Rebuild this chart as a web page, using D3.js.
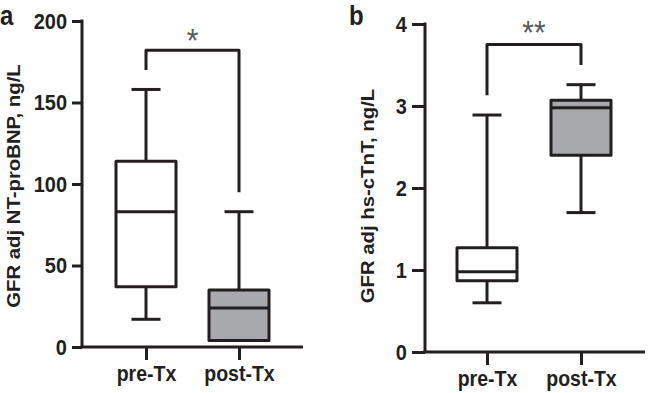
<!DOCTYPE html>
<html>
<head>
<meta charset="utf-8">
<script src="https://cdn.jsdelivr.net/npm/d3@7"></script>
<style>
  body { margin: 0; background: #fff; }
  svg text { font-family: "Liberation Sans", Arial, sans-serif; }
</style>
</head>
<body>
<svg></svg>
<script>
const w = 650
const h = 393
const ink = '#231f20'
const stretch = 1.13 // the original figure is a little taller than wide

const groups = ['pre-Tx', 'post-Tx']
const fills = ['#ffffff', '#a7a9ac']

// panel a : NT-proBNP  [min, q1, median, q3, max]
const bnpStats = [
  [17, 37, 83, 114, 158],
  [4, 4, 24, 35, 83]
]
const bnpTicks = [0, 50, 100, 150, 200]
// bracket: [left end, top, right end]
const bnpBracket = [170, 182, 95]

// panel b : hs-cTnT
const tntStats = [
  [0.6, 0.87, 0.98, 1.27, 2.89],
  [1.7, 2.4, 2.98, 3.07, 3.26]
]
const tntTicks = [0, 1, 2, 3, 4]
const tntBracket = [3.13, 3.75, 3.5]

const svg = d3.select('svg')
  .attr('width', w)
  .attr('height', h)

const panel = (opt) => {
  const {left, right, top, bottom, catX, domain, ticks, tickLen, stats, bracket,
    stars, starDy, title, titleX, titleY, letter, letterX} = opt

  const yScale = d3.scaleLinear().domain(domain).range([bottom, top])
  const xScale = d3.scalePoint().domain(groups).range(catX)

  const g = svg.append('g')

  // y axis
  const yAxis = g.append('g')
    .attr('transform', `translate(${left},0)`)
    .call(d3.axisLeft(yScale).tickValues(ticks).tickFormat(d3.format('d'))
      .tickSize(tickLen).tickPadding(5))
    .attr('font-family', null).attr('font-size', null)
  yAxis.select('.domain').attr('stroke', ink).attr('stroke-width', 3)
    .attr('d', `M0,${top - 1.5}V${bottom}`)
  yAxis.selectAll('.tick line').attr('stroke', ink).attr('stroke-width', 3)
  yAxis.selectAll('.tick text')
    .attr('fill', ink).attr('font-size', 20).attr('font-weight', 'bold')
    .attr('transform', `scale(1,${stretch})`)

  // x axis
  const xAxis = g.append('g')
    .attr('transform', `translate(0,${bottom})`)
    .call(d3.axisBottom(xScale).tickSize(13))
    .attr('font-family', null).attr('font-size', null)
  xAxis.select('.domain').attr('stroke', ink).attr('stroke-width', 3)
    .attr('d', `M${left - 1.5},0H${right}`)
  xAxis.selectAll('.tick line').attr('stroke', ink).attr('stroke-width', 3)
  xAxis.selectAll('.tick text')
    .attr('y', 0).attr('dy', null)
    .attr('transform', `translate(0,34) scale(1,${stretch})`)
    .attr('fill', ink).attr('font-size', 19.5).attr('font-weight', 'bold')

  // boxes
  const boxW = 60, capW = 29
  const box = g.selectAll('.box').data(stats).enter().append('g')
    .attr('fill', 'none').attr('stroke', ink).attr('stroke-width', 3)
  box.append('line')
    .attr('x1', (d, i) => xScale(groups[i])).attr('x2', (d, i) => xScale(groups[i]))
    .attr('y1', d => yScale(d[0])).attr('y2', d => yScale(d[4]))
  box.filter(d => d[0] < d[1]).append('line')
    .attr('x1', (d, i) => xScale(groups[i]) - capW / 2).attr('x2', (d, i) => xScale(groups[i]) + capW / 2)
    .attr('y1', d => yScale(d[0])).attr('y2', d => yScale(d[0]))
  box.append('line')
    .attr('x1', (d, i) => xScale(groups[i]) - capW / 2).attr('x2', (d, i) => xScale(groups[i]) + capW / 2)
    .attr('y1', d => yScale(d[4])).attr('y2', d => yScale(d[4]))
  box.append('rect')
    .attr('x', (d, i) => xScale(groups[i]) - boxW / 2)
    .attr('width', boxW)
    .attr('y', d => yScale(d[3]))
    .attr('height', d => yScale(d[1]) - yScale(d[3]))
    .attr('fill', (d, i) => fills[i])
    .attr('stroke-linejoin', 'round')
  box.append('line')
    .attr('x1', (d, i) => xScale(groups[i]) - boxW / 2).attr('x2', (d, i) => xScale(groups[i]) + boxW / 2)
    .attr('y1', d => yScale(d[2])).attr('y2', d => yScale(d[2]))

  // significance bracket
  const x0 = xScale(groups[0]), x1 = xScale(groups[1])
  g.append('path')
    .attr('d', `M${x0},${yScale(bracket[0])}V${yScale(bracket[1])}H${x1}V${yScale(bracket[2])}`)
    .attr('fill', 'none').attr('stroke', ink).attr('stroke-width', 3)
    .attr('stroke-linejoin', 'round')
  g.append('text')
    .attr('transform', `translate(${(x0 + x1) / 2},${yScale(bracket[1]) + starDy}) scale(1,${stretch})`)
    .attr('text-anchor', 'middle')
    .attr('font-size', 30).attr('fill', '#58595b')
    .text(stars)

  // axis title
  g.append('text')
    .attr('transform', `translate(${titleX},${titleY}) scale(1,${stretch}) rotate(-90)`)
    .attr('text-anchor', 'middle')
    .attr('font-size', 18).attr('font-weight', 'bold').attr('fill', ink)
    .text(title)

  // panel letter
  g.append('text')
    .attr('transform', `translate(${letterX},25) scale(1,${stretch})`)
    .attr('font-size', 24).attr('font-weight', 'bold').attr('fill', ink)
    .text(letter)
}

panel({
  left: 82, right: 303, top: 21, bottom: 347, catX: [146, 239],
  domain: [0, 200], ticks: bnpTicks, tickLen: 10, stats: bnpStats, bracket: bnpBracket,
  stars: '*', starDy: 2, title: 'GFR adj NT-proBNP, ng/L', titleX: 20, titleY: 186,
  letter: 'a', letterX: 0
})

panel({
  left: 425, right: 645, top: 24, bottom: 352, catX: [487, 581],
  domain: [0, 4], ticks: tntTicks, tickLen: 13, stats: tntStats, bracket: tntBracket,
  stars: '**', starDy: -1, title: 'GFR adj hs-cTnT, ng/L', titleX: 374, titleY: 196,
  letter: 'b', letterX: 349
})
</script>
</body>
</html>
